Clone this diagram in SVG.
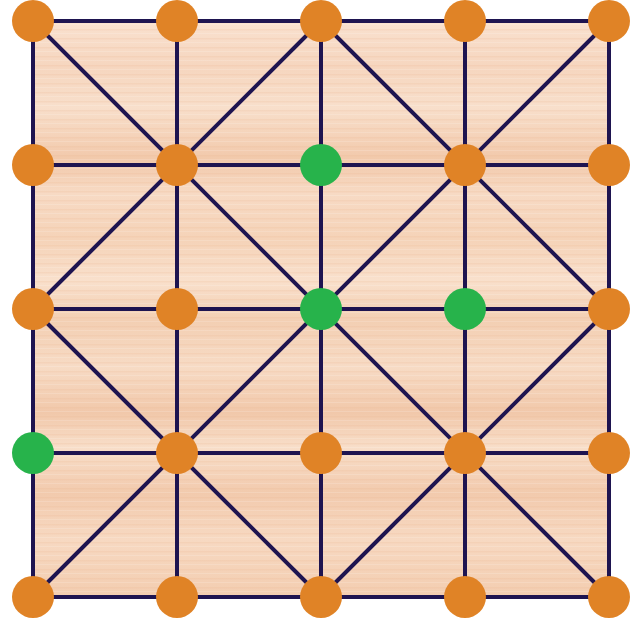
<svg xmlns="http://www.w3.org/2000/svg" width="636" height="625" viewBox="0 0 636 625">
<defs>
<linearGradient id="wood" x1="0" y1="0" x2="0" y2="1">
<stop offset="0" stop-color="#f9e1cf"/>
<stop offset="0.08" stop-color="#f6d6bf"/>
<stop offset="0.15" stop-color="#f8dfcb"/>
<stop offset="0.24" stop-color="#f2c9ab"/>
<stop offset="0.3" stop-color="#f7dac4"/>
<stop offset="0.38" stop-color="#f5d3b8"/>
<stop offset="0.45" stop-color="#f9e0cc"/>
<stop offset="0.52" stop-color="#f3cfb3"/>
<stop offset="0.6" stop-color="#f7dbc5"/>
<stop offset="0.68" stop-color="#f1c8aa"/>
<stop offset="0.74" stop-color="#f8dec9"/>
<stop offset="0.82" stop-color="#f2caad"/>
<stop offset="0.9" stop-color="#f7d9c2"/>
<stop offset="1" stop-color="#f3cdb0"/>
</linearGradient>
<pattern id="grain" width="636" height="9" patternUnits="userSpaceOnUse">
<rect x="0" y="2" width="636" height="1.5" fill="#e8b08a" opacity="0.18"/>
<rect x="0" y="6" width="636" height="1" fill="#ffffff" opacity="0.15"/>
</pattern>
</defs>
<style>
.ln{stroke:#1e1450;stroke-width:4;fill:none;stroke-linecap:butt}
.o{fill:#e08326}
.g{fill:#27b34b}
</style>
<rect x="33" y="21" width="576" height="576" fill="url(#wood)"/>
<rect x="33" y="21" width="576" height="576" fill="url(#grain)"/>
<g id="connectors" class="ln">
<rect x="33" y="21" width="576" height="576"/>
<line x1="33" y1="165" x2="609" y2="165"/>
<line x1="33" y1="309" x2="609" y2="309"/>
<line x1="33" y1="453" x2="609" y2="453"/>
<line x1="177" y1="21" x2="177" y2="597"/>
<line x1="321" y1="21" x2="321" y2="597"/>
<line x1="465" y1="21" x2="465" y2="597"/>
<line x1="33" y1="21" x2="609" y2="597"/>
<line x1="609" y1="21" x2="33" y2="597"/>
<line x1="321" y1="21" x2="609" y2="309"/>
<line x1="609" y1="309" x2="321" y2="597"/>
<line x1="321" y1="597" x2="33" y2="309"/>
<line x1="33" y1="309" x2="321" y2="21"/>
</g>
<g id="n00"><circle class="o" cx="33" cy="21" r="21"/></g>
<g id="n10"><circle class="o" cx="177" cy="21" r="21"/></g>
<g id="n20"><circle class="o" cx="321" cy="21" r="21"/></g>
<g id="n30"><circle class="o" cx="465" cy="21" r="21"/></g>
<g id="n40"><circle class="o" cx="609" cy="21" r="21"/></g>
<g id="n01"><circle class="o" cx="33" cy="165" r="21"/></g>
<g id="n11"><circle class="o" cx="177" cy="165" r="21"/></g>
<g id="n21"><circle class="g" cx="321" cy="165" r="21"/></g>
<g id="n31"><circle class="o" cx="465" cy="165" r="21"/></g>
<g id="n41"><circle class="o" cx="609" cy="165" r="21"/></g>
<g id="n02"><circle class="o" cx="33" cy="309" r="21"/></g>
<g id="n12"><circle class="o" cx="177" cy="309" r="21"/></g>
<g id="n22"><circle class="g" cx="321" cy="309" r="21"/></g>
<g id="n32"><circle class="g" cx="465" cy="309" r="21"/></g>
<g id="n42"><circle class="o" cx="609" cy="309" r="21"/></g>
<g id="n03"><circle class="g" cx="33" cy="453" r="21"/></g>
<g id="n13"><circle class="o" cx="177" cy="453" r="21"/></g>
<g id="n23"><circle class="o" cx="321" cy="453" r="21"/></g>
<g id="n33"><circle class="o" cx="465" cy="453" r="21"/></g>
<g id="n43"><circle class="o" cx="609" cy="453" r="21"/></g>
<g id="n04"><circle class="o" cx="33" cy="597" r="21"/></g>
<g id="n14"><circle class="o" cx="177" cy="597" r="21"/></g>
<g id="n24"><circle class="o" cx="321" cy="597" r="21"/></g>
<g id="n34"><circle class="o" cx="465" cy="597" r="21"/></g>
<g id="n44"><circle class="o" cx="609" cy="597" r="21"/></g>
</svg>
